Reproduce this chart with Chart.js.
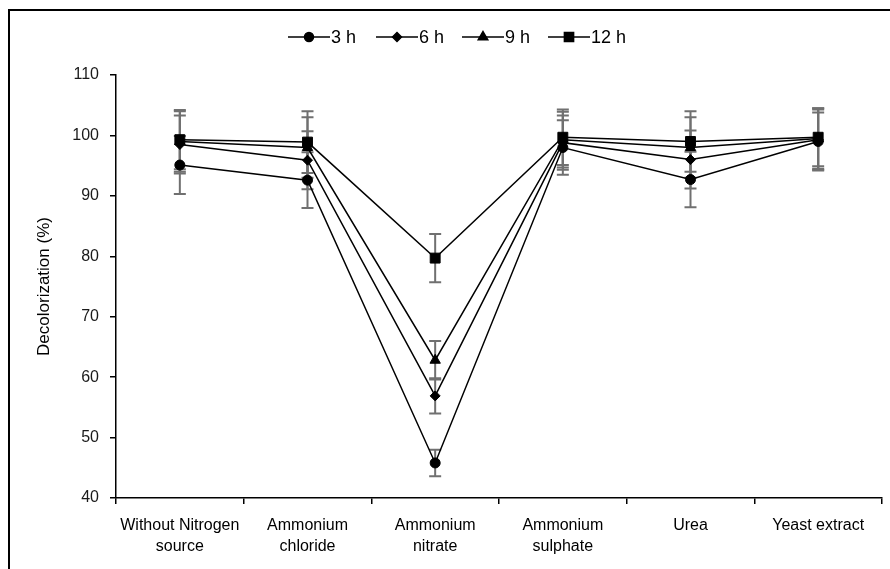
<!DOCTYPE html>
<html>
<head>
<meta charset="utf-8">
<script src="https://cdn.jsdelivr.net/npm/chart.js@4.4.1/dist/chart.umd.min.js"></script>
<style>
  html, body { margin: 0; padding: 0; background: #fff; overflow: hidden; }
  #wrap { position: relative; width: 890px; height: 569px; }
  #frame { position: absolute; left: 8px; top: 9px; width: 900px; height: 600px; border: 2px solid #000; box-sizing: border-box; pointer-events: none; }
  canvas { position: absolute; left: 0; top: 0; }
</style>
</head>
<body>
<div id="wrap">
  <canvas id="myChart" width="890" height="569"></canvas>
  <div id="frame"></div>
</div>
<script>
// Datos
const categories = [['Without Nitrogen', 'source'], ['Ammonium', 'chloride'], ['Ammonium', 'nitrate'], ['Ammonium', 'sulphate'], 'Urea', 'Yeast extract'];
const seriesNames = ['3 h', '6 h', '9 h', '12 h'];
const h3 = [95.1, 92.6, 45.8, 98.0, 92.7, 99.0];
const h6 = [98.5, 95.9, 56.9, 98.8, 96.0, 99.3];
const h9 = [99.0, 98.0, 62.8, 99.3, 98.0, 99.5];
const h12 = [99.3, 98.9, 79.7, 99.7, 99.0, 99.7];
const err3 = [4.8, 4.6, 2.2, 4.5, 4.6, 4.8];
const err6 = [4.8, 4.8, 2.9, 4.5, 4.8, 5.0];
const err9 = [5.0, 5.0, 3.2, 4.6, 5.0, 5.0];
const err12 = [4.9, 5.1, 4.0, 4.6, 5.0, 4.8];
const yTicks = [40, 50, 60, 70, 80, 90, 100, 110];

const FONT = '"Liberation Sans", Arial, sans-serif';
const styles = ['circle', 'rectRot', 'triangle', 'rect'];
const radii = [5, 5, 6, 7];
const values = [h3, h6, h9, h12];
const errors = [err3, err6, err9, err12];

// Barras de error dibujadas con las escalas del gráfico
const errorBars = {
    id: 'errorBars',
    beforeDatasetsDraw(chart) {
        const c = chart.ctx;
        const y = chart.scales.y;
        c.save();
        c.strokeStyle = '#707070';
        c.lineWidth = 2;
        chart.data.datasets.forEach((ds, i) => {
            const meta = chart.getDatasetMeta(i);
            meta.data.forEach((pt, j) => {
                const v = ds.data[j];
                const e = errors[i][j];
                const top = y.getPixelForValue(v + e);
                const bot = y.getPixelForValue(v - e);
                c.beginPath();
                c.moveTo(pt.x, top); c.lineTo(pt.x, bot);
                c.moveTo(pt.x - 6, top); c.lineTo(pt.x + 6, top);
                c.moveTo(pt.x - 6, bot); c.lineTo(pt.x + 6, bot);
                c.stroke();
            });
        });
        c.restore();
    }
};

// Leyenda con línea y marcador
const lineLegend = {
    id: 'lineLegend',
    afterDraw(chart) {
        const c = chart.ctx;
        const xs = [288, 376, 462, 548];
        const yL = 37;
        c.save();
        c.font = '18px ' + FONT;
        c.textBaseline = 'middle';
        c.fillStyle = '#000';
        chart.data.datasets.forEach((ds, i) => {
            const x0 = xs[i];
            c.strokeStyle = '#000';
            c.lineWidth = 1.5;
            c.beginPath();
            c.moveTo(x0, yL); c.lineTo(x0 + 42, yL);
            c.stroke();
            Chart.helpers.drawPoint(c, {pointStyle: styles[i], radius: radii[i] - 0.5, borderWidth: 1}, x0 + 21, yL);
            c.fillStyle = '#000';
            c.fillText(ds.label, x0 + 43, yL + 1);
        });
        c.restore();
    }
};

let ctx = document.getElementById('myChart');
let chart = new Chart(ctx, {
    type: 'line',
    data: {
        labels: categories,
        datasets: values.map((vals, i) => ({
            label: seriesNames[i],
            data: vals,
            borderColor: '#000',
            borderWidth: 1.5,
            backgroundColor: '#000',
            pointStyle: styles[i],
            pointRadius: radii[i],
            pointBackgroundColor: '#000',
            pointBorderColor: '#000',
            pointBorderWidth: 1,
            tension: 0,
            fill: false
        }))
    },
    options: {
        responsive: false,
        animation: false,
        layout: { padding: { top: 75, right: 8, bottom: 0, left: 0 } },
        plugins: {
            legend: { display: false },
            tooltip: { enabled: false }
        },
        scales: {
            x: {
                offset: true,
                grid: { offset: true, drawOnChartArea: false, drawTicks: true, tickLength: 6, color: '#000', lineWidth: 1.5 },
                border: { color: '#000', width: 1.5 },
                ticks: { color: '#000', font: { family: FONT, size: 16, lineHeight: 1.3 }, padding: 11, maxRotation: 0, autoSkip: false },
                afterFit(scale) { scale.height = 71; }
            },
            y: {
                min: 40,
                max: 110,
                afterBuildTicks(scale) { scale.ticks = yTicks.map(v => ({ value: v })); },
                grid: { drawOnChartArea: false, drawTicks: true, tickLength: 6, color: '#000', lineWidth: 1.5 },
                border: { color: '#000', width: 1.5 },
                ticks: { color: '#1a1a1a', font: { family: FONT, size: 16 }, padding: 11 },
                title: { display: true, text: 'Decolorization (%)', color: '#000', font: { family: FONT, size: 17 }, padding: { top: 34, bottom: 0 } },
                afterFit(scale) { scale.width = 116; }
            }
        }
    },
    plugins: [errorBars, lineLegend]
});
</script>
</body>
</html>
